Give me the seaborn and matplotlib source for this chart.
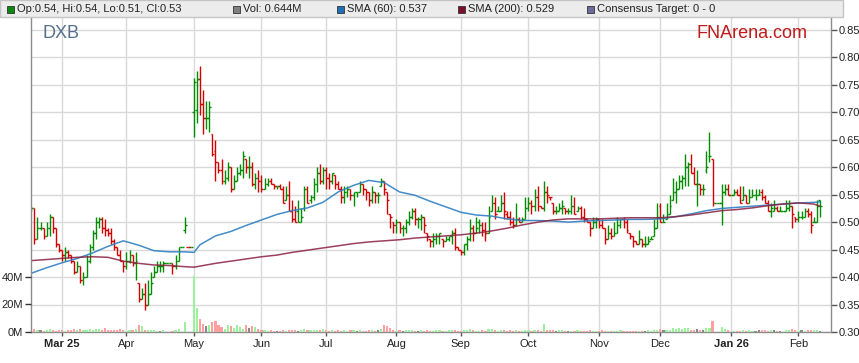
import numpy as np
import pandas as pd
import seaborn as sns
import matplotlib.pyplot as plt
from matplotlib.patches import Rectangle

sns.set_theme(style='white')
plt.rcParams['font.family'] = ['Liberation Sans', 'DejaVu Sans']

# daily bars, one per weekday starting Mon 17 Feb 2025 (holidays shown flat)
opens = [
    0.52, 0.525, 0.47, 0.49, 0.49, 0.475, 0.49, 0.51, 0.49, 0.46,
    0.45, 0.44, 0.445, 0.44, 0.43, 0.41, 0.42, 0.395, 0.40, 0.43,
    0.455, 0.48, 0.50, 0.505, 0.49, 0.485, 0.48, 0.465, 0.455, 0.44,
    0.43, 0.42, 0.43, 0.44, 0.425, 0.39, 0.36, 0.37, 0.35, 0.37,
    0.40, 0.41, 0.42, 0.42, 0.425, 0.425, 0.425, 0.42, 0.43, 0.455,
    0.485, 0.455, 0.455, 0.70, 0.705, 0.76, 0.715, 0.69, 0.69, 0.66,
    0.63, 0.61, 0.595, 0.575, 0.58, 0.60, 0.56, 0.575, 0.59, 0.595,
    0.615, 0.60, 0.60, 0.57, 0.58, 0.575, 0.56, 0.57, 0.575, 0.57,
    0.565, 0.565, 0.56, 0.54, 0.55, 0.52, 0.505, 0.52, 0.50, 0.525,
    0.56, 0.54, 0.545, 0.57, 0.59, 0.575, 0.595, 0.58, 0.575, 0.585,
    0.57, 0.56, 0.545, 0.555, 0.56, 0.55, 0.555, 0.555, 0.57, 0.56,
    0.555, 0.54, 0.555, 0.55, 0.565, 0.575, 0.555, 0.515, 0.50, 0.495,
    0.50, 0.49, 0.49, 0.50, 0.51, 0.52, 0.505, 0.505, 0.51, 0.48,
    0.47, 0.465, 0.47, 0.475, 0.47, 0.465, 0.47, 0.475, 0.48, 0.455,
    0.45, 0.445, 0.46, 0.47, 0.49, 0.48, 0.50, 0.495, 0.485, 0.48,
    0.52, 0.535, 0.52, 0.52, 0.535, 0.515, 0.51, 0.50, 0.495, 0.505,
    0.50, 0.505, 0.525, 0.535, 0.53, 0.545, 0.53, 0.525, 0.555, 0.545,
    0.535, 0.52, 0.52, 0.525, 0.525, 0.52, 0.52, 0.53, 0.52, 0.525,
    0.51, 0.505, 0.50, 0.49, 0.50, 0.505, 0.495, 0.49, 0.47, 0.48,
    0.475, 0.48, 0.495, 0.505, 0.50, 0.48, 0.475, 0.465, 0.46, 0.47,
    0.46, 0.46, 0.47, 0.475, 0.49, 0.53, 0.50, 0.505, 0.515, 0.54,
    0.555, 0.56, 0.575, 0.58, 0.60, 0.605, 0.59, 0.57, 0.57, 0.56,
    0.595, 0.62, 0.615, 0.535, 0.535, 0.535, 0.555, 0.56, 0.55, 0.55,
    0.555, 0.55, 0.54, 0.55, 0.535, 0.545, 0.55, 0.55, 0.555, 0.545,
    0.535, 0.52, 0.52, 0.525, 0.52, 0.52, 0.52, 0.525, 0.53, 0.51,
    0.505, 0.51, 0.51, 0.52, 0.515, 0.50, 0.50, 0.54,
]
highs = [
    0.53, 0.49, 0.51, 0.50, 0.49, 0.50, 0.515, 0.51, 0.49, 0.46,
    0.445, 0.455, 0.45, 0.44, 0.43, 0.43, 0.41, 0.41, 0.44, 0.46,
    0.485, 0.51, 0.51, 0.51, 0.505, 0.49, 0.49, 0.47, 0.455, 0.45,
    0.43, 0.445, 0.45, 0.43, 0.445, 0.39, 0.38, 0.39, 0.395, 0.41,
    0.42, 0.43, 0.43, 0.43, 0.425, 0.425, 0.425, 0.44, 0.455, 0.455,
    0.51, 0.455, 0.455, 0.762, 0.776, 0.784, 0.74, 0.72, 0.72, 0.66,
    0.65, 0.61, 0.615, 0.595, 0.61, 0.60, 0.585, 0.60, 0.605, 0.63,
    0.615, 0.62, 0.61, 0.59, 0.595, 0.585, 0.58, 0.58, 0.58, 0.57,
    0.565, 0.57, 0.565, 0.565, 0.575, 0.54, 0.53, 0.54, 0.525, 0.565,
    0.565, 0.55, 0.58, 0.60, 0.605, 0.60, 0.60, 0.59, 0.59, 0.585,
    0.575, 0.565, 0.565, 0.565, 0.56, 0.555, 0.555, 0.575, 0.57, 0.56,
    0.555, 0.565, 0.55, 0.555, 0.58, 0.575, 0.555, 0.515, 0.50, 0.505,
    0.50, 0.495, 0.505, 0.52, 0.525, 0.525, 0.51, 0.515, 0.51, 0.48,
    0.47, 0.48, 0.48, 0.48, 0.47, 0.475, 0.475, 0.485, 0.49, 0.455,
    0.45, 0.46, 0.475, 0.505, 0.495, 0.51, 0.505, 0.50, 0.50, 0.53,
    0.55, 0.545, 0.53, 0.55, 0.555, 0.52, 0.52, 0.51, 0.535, 0.51,
    0.51, 0.545, 0.545, 0.54, 0.56, 0.565, 0.53, 0.575, 0.565, 0.545,
    0.535, 0.53, 0.535, 0.54, 0.525, 0.525, 0.55, 0.545, 0.53, 0.53,
    0.525, 0.505, 0.50, 0.51, 0.51, 0.505, 0.505, 0.49, 0.495, 0.49,
    0.50, 0.51, 0.50, 0.51, 0.505, 0.48, 0.47, 0.465, 0.485, 0.47,
    0.475, 0.475, 0.475, 0.505, 0.535, 0.535, 0.515, 0.535, 0.55, 0.58,
    0.575, 0.585, 0.585, 0.625, 0.61, 0.625, 0.60, 0.595, 0.57, 0.57,
    0.63, 0.665, 0.615, 0.535, 0.535, 0.57, 0.57, 0.57, 0.55, 0.56,
    0.56, 0.565, 0.565, 0.55, 0.56, 0.56, 0.56, 0.56, 0.56, 0.55,
    0.54, 0.535, 0.54, 0.53, 0.53, 0.52, 0.54, 0.54, 0.53, 0.51,
    0.52, 0.52, 0.525, 0.525, 0.52, 0.51, 0.54, 0.54,
]
lows = [
    0.52, 0.46, 0.475, 0.485, 0.47, 0.475, 0.475, 0.48, 0.455, 0.445,
    0.43, 0.43, 0.435, 0.425, 0.405, 0.41, 0.39, 0.385, 0.405, 0.425,
    0.45, 0.47, 0.49, 0.48, 0.475, 0.475, 0.46, 0.45, 0.44, 0.43,
    0.41, 0.415, 0.425, 0.42, 0.395, 0.355, 0.36, 0.34, 0.365, 0.37,
    0.40, 0.41, 0.41, 0.41, 0.425, 0.425, 0.405, 0.415, 0.43, 0.455,
    0.48, 0.455, 0.455, 0.655, 0.68, 0.695, 0.66, 0.67, 0.665, 0.62,
    0.575, 0.59, 0.57, 0.57, 0.575, 0.555, 0.565, 0.575, 0.585, 0.58,
    0.59, 0.58, 0.565, 0.56, 0.555, 0.555, 0.56, 0.565, 0.57, 0.56,
    0.56, 0.56, 0.535, 0.54, 0.52, 0.50, 0.50, 0.50, 0.50, 0.52,
    0.535, 0.535, 0.54, 0.555, 0.57, 0.57, 0.56, 0.56, 0.57, 0.56,
    0.56, 0.535, 0.535, 0.545, 0.54, 0.53, 0.545, 0.555, 0.55, 0.54,
    0.53, 0.535, 0.535, 0.535, 0.565, 0.55, 0.515, 0.49, 0.48, 0.48,
    0.48, 0.475, 0.48, 0.495, 0.505, 0.495, 0.49, 0.485, 0.48, 0.465,
    0.455, 0.455, 0.46, 0.46, 0.455, 0.465, 0.465, 0.46, 0.45, 0.45,
    0.44, 0.44, 0.45, 0.465, 0.465, 0.48, 0.48, 0.475, 0.465, 0.48,
    0.52, 0.505, 0.52, 0.52, 0.505, 0.505, 0.495, 0.49, 0.50, 0.50,
    0.50, 0.515, 0.52, 0.515, 0.52, 0.52, 0.525, 0.52, 0.535, 0.54,
    0.515, 0.515, 0.52, 0.515, 0.515, 0.515, 0.515, 0.515, 0.52, 0.505,
    0.50, 0.50, 0.475, 0.49, 0.49, 0.49, 0.49, 0.46, 0.47, 0.47,
    0.48, 0.49, 0.49, 0.49, 0.48, 0.47, 0.455, 0.46, 0.46, 0.455,
    0.455, 0.46, 0.47, 0.48, 0.50, 0.50, 0.50, 0.505, 0.515, 0.54,
    0.535, 0.56, 0.56, 0.565, 0.565, 0.59, 0.57, 0.53, 0.55, 0.55,
    0.59, 0.61, 0.53, 0.535, 0.535, 0.495, 0.55, 0.55, 0.55, 0.55,
    0.55, 0.535, 0.54, 0.535, 0.54, 0.545, 0.54, 0.55, 0.54, 0.54,
    0.525, 0.51, 0.52, 0.52, 0.52, 0.52, 0.52, 0.52, 0.49, 0.50,
    0.50, 0.505, 0.51, 0.51, 0.48, 0.50, 0.50, 0.51,
]
closes = [
    0.525, 0.47, 0.49, 0.49, 0.475, 0.49, 0.51, 0.49, 0.46, 0.45,
    0.44, 0.445, 0.44, 0.43, 0.41, 0.42, 0.395, 0.40, 0.43, 0.455,
    0.48, 0.50, 0.505, 0.49, 0.485, 0.48, 0.465, 0.455, 0.44, 0.43,
    0.42, 0.43, 0.44, 0.425, 0.43, 0.36, 0.37, 0.35, 0.37, 0.39,
    0.41, 0.42, 0.42, 0.425, 0.425, 0.425, 0.42, 0.43, 0.455, 0.455,
    0.495, 0.455, 0.455, 0.755, 0.76, 0.715, 0.69, 0.69, 0.71, 0.625,
    0.61, 0.595, 0.575, 0.58, 0.60, 0.56, 0.575, 0.59, 0.595, 0.62,
    0.60, 0.60, 0.57, 0.58, 0.575, 0.56, 0.57, 0.575, 0.57, 0.565,
    0.565, 0.56, 0.535, 0.55, 0.52, 0.505, 0.50, 0.50, 0.51, 0.56,
    0.535, 0.545, 0.57, 0.59, 0.575, 0.595, 0.58, 0.575, 0.59, 0.57,
    0.56, 0.545, 0.555, 0.56, 0.55, 0.555, 0.555, 0.57, 0.56, 0.555,
    0.54, 0.555, 0.55, 0.55, 0.575, 0.56, 0.54, 0.51, 0.495, 0.50,
    0.49, 0.49, 0.50, 0.51, 0.52, 0.505, 0.505, 0.51, 0.495, 0.475,
    0.465, 0.47, 0.475, 0.48, 0.465, 0.47, 0.475, 0.48, 0.455, 0.45,
    0.445, 0.46, 0.47, 0.49, 0.48, 0.49, 0.495, 0.485, 0.48, 0.51,
    0.535, 0.515, 0.52, 0.535, 0.52, 0.51, 0.50, 0.495, 0.505, 0.50,
    0.505, 0.525, 0.535, 0.53, 0.545, 0.53, 0.525, 0.555, 0.55, 0.545,
    0.52, 0.52, 0.525, 0.53, 0.52, 0.52, 0.53, 0.515, 0.525, 0.51,
    0.505, 0.50, 0.49, 0.50, 0.505, 0.495, 0.49, 0.47, 0.48, 0.475,
    0.48, 0.495, 0.505, 0.50, 0.485, 0.475, 0.465, 0.46, 0.47, 0.46,
    0.46, 0.465, 0.47, 0.49, 0.51, 0.50, 0.50, 0.515, 0.53, 0.555,
    0.56, 0.575, 0.58, 0.60, 0.605, 0.59, 0.57, 0.57, 0.56, 0.56,
    0.60, 0.62, 0.535, 0.535, 0.535, 0.555, 0.56, 0.55, 0.55, 0.555,
    0.55, 0.535, 0.55, 0.535, 0.545, 0.55, 0.55, 0.55, 0.545, 0.535,
    0.52, 0.525, 0.525, 0.52, 0.52, 0.52, 0.525, 0.53, 0.515, 0.505,
    0.51, 0.51, 0.52, 0.515, 0.495, 0.50, 0.53, 0.53,
]
# volume in millions
volumes = [
    1.5, 2.5, 1.2, 1.8, 1.0, 1.5, 2.2, 1.4, 1.0, 1.6,
    1.2, 0.9, 1.4, 1.8, 2.4, 1.2, 2.0, 1.6, 1.1, 2.2,
    1.5, 2.0, 2.2, 1.3, 2.6, 1.5, 1.1, 1.8, 1.3, 2.1,
    1.4, 1.0, 1.6, 1.2, 1.9, 4.8, 4.4, 1.8, 1.6, 1.2,
    1.4, 1.0, 0.8, 1.1, 0.0, 0.0, 1.0, 1.3, 2.0, 0.0,
    7.0, 0.0, 0.0, 40.5, 17.5, 9.5, 6.0, 4.0, 5.3, 7.2,
    7.7, 5.3, 3.4, 2.4, 4.8, 4.0, 2.9, 4.8, 3.4, 2.4,
    4.8, 2.9, 4.0, 3.4, 2.4, 1.6, 1.2, 1.0, 1.4, 0.8,
    1.0, 0.7, 1.2, 0.9, 1.8, 1.5, 1.1, 0.8, 1.4, 2.0,
    1.6, 1.2, 1.8, 1.5, 1.1, 1.9, 1.4, 1.0, 1.2, 0.9,
    1.3, 1.0, 1.5, 0.8, 1.1, 1.4, 0.9, 1.2, 0.8, 1.0,
    1.3, 1.1, 0.9, 1.8, 2.5, 5.3, 4.0, 2.6, 1.5, 0.9,
    1.2, 1.0, 1.4, 1.2, 1.5, 1.0, 0.8, 1.1, 0.9, 1.3,
    1.0, 0.8, 1.2, 1.5, 1.0, 0.9, 1.3, 1.1, 1.8, 0.8,
    1.0, 1.4, 1.1, 1.9, 1.3, 1.0, 0.8, 1.2, 1.0, 2.0,
    2.4, 1.4, 1.0, 1.6, 1.3, 1.0, 1.2, 0.8, 1.1, 0.9,
    0.8, 1.2, 1.5, 1.0, 1.4, 1.1, 0.9, 5.8, 1.8, 1.2,
    1.4, 1.0, 1.2, 1.1, 0.9, 0.8, 1.0, 0.9, 1.2, 0.8,
    1.0, 0.7, 1.6, 0.9, 0.8, 1.0, 1.1, 0.9, 0.7, 0.9,
    0.8, 1.0, 1.1, 0.8, 0.9, 1.0, 0.8, 0.7, 1.0, 0.9,
    0.8, 1.1, 0.9, 1.2, 1.5, 2.0, 1.1, 1.4, 1.6, 2.6,
    2.0, 2.8, 2.4, 3.2, 2.6, 1.8, 1.6, 2.2, 1.4, 1.8,
    2.6, 3.2, 7.6, 0.0, 0.0, 3.4, 2.0, 1.2, 0.0, 1.0,
    0.8, 1.0, 1.2, 0.9, 1.1, 1.0, 0.9, 1.3, 1.2, 1.5,
    1.0, 1.4, 1.1, 0.9, 1.0, 0.0, 1.2, 1.6, 2.0, 1.1,
    0.9, 1.4, 1.0, 1.2, 1.8, 1.1, 1.5, 0.644,
]

# moving averages at these bar positions
sma_pos = [0, 5, 10, 15, 20, 25, 30, 35, 40, 45, 50, 53, 55, 60, 65, 70, 75,
           80, 85, 90, 95, 100, 105, 110, 115, 120, 125, 130, 135, 140, 145,
           150, 155, 160, 165, 170, 175, 180, 185, 190, 195, 200, 205, 210,
           215, 220, 225, 230, 235, 240, 245, 250, 255, 257]
sma60 = [0.407, 0.417, 0.426, 0.434, 0.444, 0.456, 0.466, 0.458, 0.448, 0.446,
         0.446, 0.445, 0.459, 0.475, 0.483, 0.494, 0.504, 0.514, 0.521, 0.526,
         0.536, 0.555, 0.567, 0.576, 0.572, 0.555, 0.549, 0.538, 0.528, 0.518,
         0.513, 0.511, 0.506, 0.503, 0.503, 0.502, 0.500, 0.502, 0.503, 0.504,
         0.505, 0.505, 0.506, 0.510, 0.515, 0.521, 0.525, 0.527, 0.529, 0.531,
         0.533, 0.535, 0.536, 0.537]
sma200 = [0.430, 0.432, 0.434, 0.436, 0.437, 0.436, 0.429, 0.425, 0.422, 0.421,
          0.419, 0.418, 0.420, 0.425, 0.429, 0.433, 0.437, 0.440, 0.445, 0.449,
          0.453, 0.457, 0.461, 0.464, 0.466, 0.468, 0.471, 0.473, 0.475, 0.477,
          0.480, 0.484, 0.489, 0.495, 0.500, 0.504, 0.506, 0.506, 0.506, 0.507,
          0.508, 0.508, 0.508, 0.510, 0.513, 0.517, 0.521, 0.523, 0.526, 0.530,
          0.533, 0.535, 0.533, 0.529]

n = len(closes)
x = np.arange(n)
dates = pd.bdate_range('2025-02-17', periods=n)
o = np.array(opens)
c = np.array(closes)
h = np.maximum.reduce([np.array(highs), o, c])
l = np.minimum.reduce([np.array(lows), o, c])
prev = np.concatenate([[c[0]], c[:-1]])
bar_col = np.where(c >= prev, '#008c00', '#d40000')
vol_col = np.where(c > prev, '#9cf29c', np.where(c < prev, '#ff9f9f', '#8a8a8a'))

fig = plt.figure(figsize=(8.59, 3.63), dpi=100)
ax = fig.add_axes([31 / 859, 31 / 363, 800 / 859, 315 / 363])
axv = ax.twinx()

# price bars
ax.vlines(x, l, h, colors=bar_col, lw=1.0)
ax.hlines(o, x - 0.6, x, colors=bar_col, lw=1.0)
ax.hlines(c, x, x + 0.6, colors=bar_col, lw=1.0)

sns.lineplot(x=sma_pos, y=sma60, ax=ax, color='#2f80c2', lw=1.1, alpha=0.9)
sns.lineplot(x=sma_pos, y=sma200, ax=ax, color='#8a1f40', lw=1.1, alpha=0.85)

ax.set_xlim(-0.1, 260.6)
ax.set_ylim(0.30, 0.30 + 315 / 549.2)
ax.set_yticks(np.arange(0.30, 0.851, 0.05))
ax.set_yticklabels([f'{v:.2f}' for v in np.arange(0.30, 0.851, 0.05)])
ax.yaxis.tick_right()

# month ticks
per = dates.to_period('M')
month_idx = [i for i in range(1, n) if per[i] != per[i - 1]]
labels = []
for i in month_idx:
    d = dates[i]
    if d.month == 1 or i == month_idx[0]:
        labels.append(d.strftime('%b %y'))
    else:
        labels.append(d.strftime('%b'))
ax.set_xticks(month_idx)
ax.set_xticklabels(labels)
for t, lab in zip(ax.get_xticklabels(), labels):
    if ' ' in lab:
        t.set_fontweight('bold')

ax.grid(True, color='#d9d9d9', lw=1.0)
ax.set_axisbelow(True)
ax.set_xlabel('')
ax.set_ylabel('')
ax.tick_params(axis='y', which='both', right=True, left=False, length=4,
               width=1, color='#555555', pad=1.5, labelsize=8, labelcolor='#222222')
ax.tick_params(axis='x', bottom=True, length=3, width=1, color='#555555',
               pad=2, labelsize=8, labelcolor='#222222')
for side in ['left', 'right', 'bottom']:
    ax.spines[side].set_color('#8c8c8c')
    ax.spines[side].set_linewidth(1.0)
ax.spines['top'].set_visible(False)

# volume
axv.bar(x, volumes, width=0.7, color=vol_col, linewidth=0)
axv.set_ylim(0, 227.4)
axv.yaxis.tick_left()
axv.set_yticks([0, 20, 40])
axv.set_yticklabels(['0M', '20M', '40M'])
axv.tick_params(axis='y', left=True, right=False, length=4, width=1,
                color='#333333', pad=1.5, labelsize=8, labelcolor='#222222')
axv.grid(False)
for s in axv.spines.values():
    s.set_visible(False)
axv.set_xlim(ax.get_xlim())

# header bar with legend items
fig.patches.append(Rectangle((0, 1 - 17 / 363), 843 / 859, 17 / 363,
                             transform=fig.transFigure, facecolor='#ececec',
                             edgecolor='#c4c4c4', lw=1, zorder=5))
items = [
    (7, '#0a8a0a', 'Op:0.54, Hi:0.54, Lo:0.51, Cl:0.53'),
    (233, '#808080', 'Vol: 0.644M'),
    (337, '#1f6fb5', 'SMA (60): 0.537'),
    (458, '#7a0f2a', 'SMA (200): 0.529'),
    (587, '#6c6c9c', 'Consensus Target: 0 - 0'),
]
for px, col, txt in items:
    fig.patches.append(Rectangle((px / 859, 1 - 13 / 363), 7 / 859, 7 / 363,
                                 transform=fig.transFigure, facecolor=col,
                                 edgecolor='#333333', lw=0.6, zorder=6))
    fig.text((px + 10) / 859, 1 - 9.5 / 363, txt, fontsize=8, color='#222222',
             va='center', ha='left', zorder=7)

fig.text(42 / 859, 1 - 33 / 363, 'DXB', fontsize=13, color='#55708c',
         va='center', ha='left')
fig.text(808 / 859, 1 - 33 / 363, 'FNArena.com', fontsize=13, color='#c01a1a',
         va='center', ha='right')

fig.savefig('out.png', dpi=100)
